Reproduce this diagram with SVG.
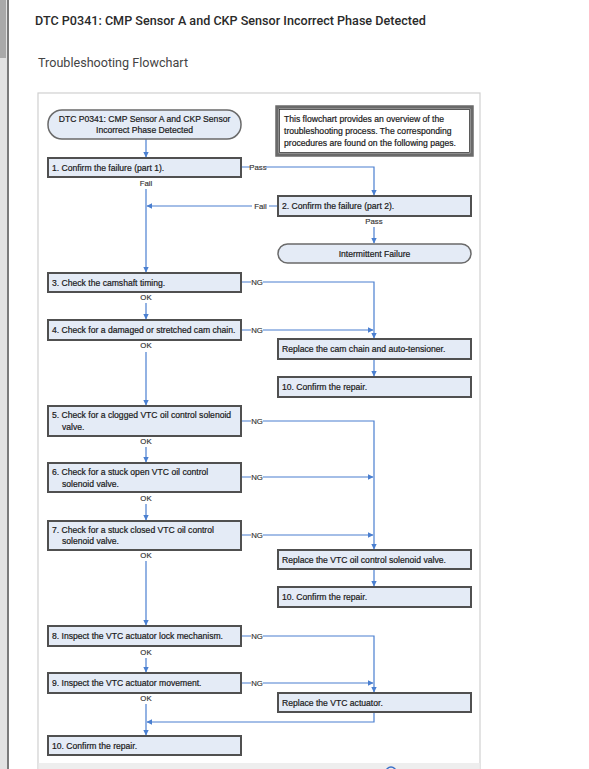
<svg xmlns="http://www.w3.org/2000/svg" width="589" height="769" viewBox="0 0 589 769">
<style>
.bx{fill:#e4ebf6;stroke:#505050;stroke-width:2}
.term{fill:#e4ebf6;stroke:#6a6a6a;stroke-width:1.5}
.t{font-family:"Liberation Sans",Arial,sans-serif;font-size:8.6px;fill:#1a1a1a;stroke:#1a1a1a;stroke-width:0.2}
.lb{font-family:"Liberation Sans",Arial,sans-serif;font-size:7.8px;fill:#333333;stroke:#333333;stroke-width:0.15}
.ln{fill:none;stroke:#4a7fd0;stroke-width:1.2}
</style>
<defs>
<marker id="ar" markerWidth="6" markerHeight="6" refX="5" refY="3" orient="auto" markerUnits="userSpaceOnUse">
<path d="M0,0.3 L5.5,3 L0,5.7 Z" fill="#4a7fd0"/>
</marker>
</defs>
<rect x="0" y="0" width="589" height="769" fill="#ffffff"/>
<g id="scrollbar">
<rect x="0" y="0" width="7" height="769" fill="#e2e2e2"/>
<rect x="0" y="0" width="6" height="58" fill="#a9a9a9"/>
<rect x="7" y="0" width="2" height="769" fill="#7a7a7a"/>
</g>
<g id="header">
<text x="35" y="25" font-family="Roboto,'Liberation Sans',sans-serif" font-size="12.6" font-weight="500" fill="#2a2a2a">DTC P0341: CMP Sensor A and CKP Sensor Incorrect Phase Detected</text>
<text x="38" y="67" font-family="Roboto,'Liberation Sans',sans-serif" font-size="12.6" fill="#444444">Troubleshooting Flowchart</text>
</g>
<g id="frame">
<rect x="38" y="93" width="442" height="680" fill="#ffffff" stroke="#d0d0d0" stroke-width="1.2"/>
<rect x="38.6" y="763" width="441" height="6" fill="#eeeeee"/>
<circle cx="391" cy="772" r="5" fill="none" stroke="#3a6fc8" stroke-width="1.5"/>
</g>
<g id="connectors">
<path class="ln" d="M146,139 V157" marker-end="url(#ar)"/>
<path class="ln" d="M241,167 H250 M266,167 H374 V195" marker-end="url(#ar)"/>
<path class="ln" d="M146,189 V272" marker-end="url(#ar)"/>
<path class="ln" d="M278,206 H269 M252,206 H147" marker-end="url(#ar)"/>
<path class="ln" d="M374,227 V243" marker-end="url(#ar)"/>
<path class="ln" d="M241,282 H251 M263,282 H374 V338" marker-end="url(#ar)"/>
<path class="ln" d="M146,303 V319" marker-end="url(#ar)"/>
<path class="ln" d="M241,330 H251 M263,330 H373" marker-end="url(#ar)"/>
<path class="ln" d="M146,352 V405" marker-end="url(#ar)"/>
<path class="ln" d="M374,359 V376" marker-end="url(#ar)"/>
<path class="ln" d="M241,421 H251 M263,421 H374 V549" marker-end="url(#ar)"/>
<path class="ln" d="M146,447 V462" marker-end="url(#ar)"/>
<path class="ln" d="M241,477 H251 M263,477 H373" marker-end="url(#ar)"/>
<path class="ln" d="M146,504 V520" marker-end="url(#ar)"/>
<path class="ln" d="M241,535 H251 M263,535 H373" marker-end="url(#ar)"/>
<path class="ln" d="M146,561 V625" marker-end="url(#ar)"/>
<path class="ln" d="M374,569 V586" marker-end="url(#ar)"/>
<path class="ln" d="M241,636 H251 M263,636 H374 V692" marker-end="url(#ar)"/>
<path class="ln" d="M146,658 V672" marker-end="url(#ar)"/>
<path class="ln" d="M241,683 H251 M263,683 H373" marker-end="url(#ar)"/>
<path class="ln" d="M146,704 V735" marker-end="url(#ar)"/>
<path class="ln" d="M374,712 V722 H147" marker-end="url(#ar)"/>
<text class="lb" x="258" y="170" text-anchor="middle">Pass</text>
<text class="lb" x="146" y="186" text-anchor="middle">Fail</text>
<text class="lb" x="260.5" y="209" text-anchor="middle">Fail</text>
<text class="lb" x="374" y="224" text-anchor="middle">Pass</text>
<text class="lb" x="257" y="285" text-anchor="middle">NG</text>
<text class="lb" x="146" y="300" text-anchor="middle">OK</text>
<text class="lb" x="257" y="333" text-anchor="middle">NG</text>
<text class="lb" x="146" y="348" text-anchor="middle">OK</text>
<text class="lb" x="257" y="424" text-anchor="middle">NG</text>
<text class="lb" x="146" y="444" text-anchor="middle">OK</text>
<text class="lb" x="257" y="480" text-anchor="middle">NG</text>
<text class="lb" x="146" y="501" text-anchor="middle">OK</text>
<text class="lb" x="257" y="538" text-anchor="middle">NG</text>
<text class="lb" x="146" y="558" text-anchor="middle">OK</text>
<text class="lb" x="257" y="639" text-anchor="middle">NG</text>
<text class="lb" x="146" y="655" text-anchor="middle">OK</text>
<text class="lb" x="257" y="686" text-anchor="middle">NG</text>
<text class="lb" x="146" y="701" text-anchor="middle">OK</text>
</g>
<g id="start">
<rect class="term" x="48" y="110" width="193" height="29" rx="14"/>
<text class="t" x="144.5" y="121.5" text-anchor="middle" font-size="8.2">DTC P0341: CMP Sensor A and CKP Sensor</text>
<text class="t" x="144.5" y="132.5" text-anchor="middle" font-size="8.2">Incorrect Phase Detected</text>
</g>
<g id="note">
<rect x="277" y="107" width="195" height="48" fill="#ffffff" stroke="#6a6a6a" stroke-width="3.5"/>
<rect x="279.5" y="109.5" width="190" height="43" fill="none" stroke="#333333" stroke-width="0.8"/>
<text class="t" x="284" y="121.5">This flowchart provides an overview of the</text>
<text class="t" x="284" y="133.5">troubleshooting process. The corresponding</text>
<text class="t" x="284" y="145.5">procedures are found on the following pages.</text>
</g>
<g id="step1"><rect class="bx" x="48" y="158" width="193" height="19"/><text class="t" x="52" y="170.5">1. Confirm the failure (part 1).</text></g>
<g id="step2"><rect class="bx" x="278" y="196" width="193" height="20"/><text class="t" x="282" y="209">2. Confirm the failure (part 2).</text></g>
<g id="intermittent"><rect class="term" x="278" y="244" width="193" height="19" rx="9.5"/><text class="t" x="374.5" y="256.5" text-anchor="middle">Intermittent Failure</text></g>
<g id="step3"><rect class="bx" x="48" y="273" width="193" height="19"/><text class="t" x="52" y="285.5">3. Check the camshaft timing.</text></g>
<g id="step4"><rect class="bx" x="48" y="320" width="193" height="20"/><text class="t" x="52" y="333">4. Check for a damaged or stretched cam chain.</text></g>
<g id="replaceChain"><rect class="bx" x="278" y="339" width="193" height="20"/><text class="t" x="282" y="352">Replace the cam chain and auto-tensioner.</text></g>
<g id="confirmA"><rect class="bx" x="278" y="377" width="193" height="20"/><text class="t" x="282" y="390">10. Confirm the repair.</text></g>
<g id="step5"><rect class="bx" x="48" y="406" width="193" height="30"/><text class="t" x="52" y="418">5. Check for a clogged VTC oil control solenoid</text><text class="t" x="62" y="429.5">valve.</text></g>
<g id="step6"><rect class="bx" x="48" y="463" width="193" height="29"/><text class="t" x="52" y="475">6. Check for a stuck open VTC oil control</text><text class="t" x="62" y="486.5">solenoid valve.</text></g>
<g id="step7"><rect class="bx" x="48" y="521" width="193" height="29"/><text class="t" x="52" y="532.5">7. Check for a stuck closed VTC oil control</text><text class="t" x="62" y="544">solenoid valve.</text></g>
<g id="replaceValve"><rect class="bx" x="278" y="550" width="193" height="19"/><text class="t" x="282" y="562.5">Replace the VTC oil control solenoid valve.</text></g>
<g id="confirmB"><rect class="bx" x="278" y="587" width="193" height="20"/><text class="t" x="282" y="600">10. Confirm the repair.</text></g>
<g id="step8"><rect class="bx" x="48" y="626" width="193" height="20"/><text class="t" x="52" y="639">8. Inspect the VTC actuator lock mechanism.</text></g>
<g id="step9"><rect class="bx" x="48" y="673" width="193" height="20"/><text class="t" x="52" y="686">9. Inspect the VTC actuator movement.</text></g>
<g id="replaceActuator"><rect class="bx" x="278" y="693" width="193" height="19"/><text class="t" x="282" y="705.5">Replace the VTC actuator.</text></g>
<g id="step10"><rect class="bx" x="48" y="736" width="193" height="19"/><text class="t" x="52" y="748.5">10. Confirm the repair.</text></g>
</svg>
